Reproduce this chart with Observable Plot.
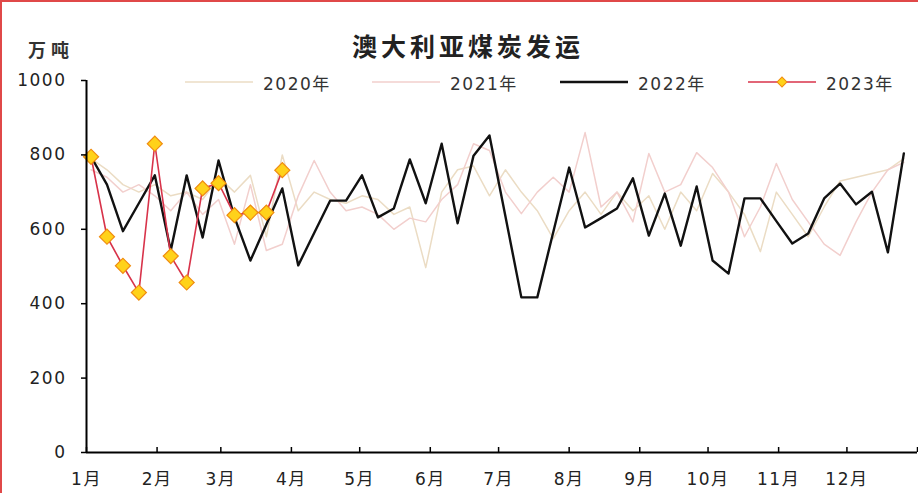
<!DOCTYPE html>
<html>
<head>
<meta charset="utf-8">
<script src="https://cdn.jsdelivr.net/npm/d3@7"></script>
<script src="https://cdn.jsdelivr.net/npm/@observablehq/plot@0.6"></script>
<style>
  html, body { margin: 0; padding: 0; background: #fff; }
  #wrap { position: relative; width: 918px; height: 493px; overflow: hidden; background: #fff;
          font-family: "DejaVu Sans", "Noto Sans CJK SC", sans-serif; color: #222; }
  #chart { position: absolute; left: 0; top: 0; }
  #border { position: absolute; left: 0; top: 0; right: 0; bottom: 0; pointer-events: none;
            border-left: 2px solid #e04848; border-top: 2px solid #e04848; }
  #title { position: absolute; top: 33px; left: 352px; white-space: nowrap;
           font-family: "Noto Sans CJK SC", sans-serif; font-weight: bold; font-size: 25px;
           letter-spacing: 4px; color: #222; line-height: 1; }
  #unit { position: absolute; top: 40px; left: 28px; white-space: nowrap;
          font-family: "Noto Sans CJK SC", sans-serif; font-weight: bold; font-size: 18px;
          letter-spacing: 5px; color: #333; line-height: 1; }
  .leg { position: absolute; top: 72px; height: 20px; display: flex; align-items: center; white-space: nowrap;
         font-size: 17px; letter-spacing: 1.5px; color: #333; }
  .leg svg { margin-right: 10px; }
</style>
</head>
<body>
<div id="wrap">
  <div id="chart"></div>
  <div id="title">澳大利亚煤炭发运</div>
  <div id="unit">万吨</div>
  <div id="legend"></div>
  <div id="border"></div>
</div>
<script>
// ---- data (weekly shipments, 万吨) ----
const seriesNames = ["2020年", "2021年", "2022年", "2023年"];
const seriesColors = ["#ebdcc4", "#f2cfcd", "#111111", "#d8334a"];
const monthLabels = ["1月","2月","3月","4月","5月","6月","7月","8月","9月","10月","11月","12月"];
const yTicks = [0, 200, 400, 600, 800, 1000];

const v2020 = [790, 760, 720, 700, 720, 690, 700, 680, 740, 700, 745, 580, 800, 650, 700, 680,
               670, 690, 680, 640, 660, 497, 700, 760, 770, 690, 760, 700, 650, 575, 650, 700,
               640, 700, 650, 690, 600, 700, 650, 750, 700, 640, 540, 700, 640, 580, 660, 730,
               740, 750, 760, 790];
const v2021 = [760, 740, 700, 720, 690, 650, 700, 640, 680, 560, 720, 543, 560, 690, 785, 700,
               650, 660, 640, 600, 630, 620, 680, 720, 830, 812, 700, 642, 700, 740, 700, 860,
               660, 700, 620, 804, 700, 720, 806, 766, 700, 580, 660, 777, 680, 620, 560, 530,
               620, 700, 760, 780];
const v2022 = [795, 720, 595, 670, 745, 543, 745, 578, 785, 632, 516, 613, 710, 503, 590, 677,
               677, 745, 632, 656, 788, 670, 830, 616, 798, 852, 635, 417, 417, 592, 766, 605,
               630, 656, 737, 583, 696, 556, 715, 516, 481, 683, 683, 622, 562, 589, 683, 723,
               667, 701, 538, 804];
const v2023 = [795, 580, 502, 430, 830, 528, 457, 710, 724, 638, 645, 645, 759];

// ---- build table ----
const weekDate = i => new Date(Date.UTC(2023, 0, 3 + 7 * i));
const toRows = (vals, name) => vals.map((v, i) => ({ year: name, date: weekDate(i), value: v }));
const allValues = [v2020, v2021, v2022, v2023];
const rows = allValues.map((vals, k) => toRows(vals, seriesNames[k]));

const xStart = new Date(Date.UTC(2023, 0, 1));
const xEnd = new Date(Date.UTC(2024, 0, 1));
const monthStarts = d3.range(13).map(m => new Date(Date.UTC(2023, m, 1)));

const plot = Plot.plot({
  width: 918,
  height: 493,
  marginLeft: 86,
  marginRight: 1,
  marginTop: 80,
  marginBottom: 41,
  style: { fontSize: "17px", fontFamily: "\"DejaVu Sans\", \"Noto Sans CJK SC\", sans-serif",
           color: "#222", letterSpacing: "1.5px", background: "transparent", overflow: "visible" },
  x: { type: "utc", domain: [xStart, xEnd] },
  y: { domain: [0, 1000] },
  marks: [
    Plot.lineY(rows[0], { x: "date", y: "value", stroke: seriesColors[0], strokeWidth: 1.5 }),
    Plot.lineY(rows[1], { x: "date", y: "value", stroke: seriesColors[1], strokeWidth: 1.5 }),
    Plot.lineY(rows[2], { x: "date", y: "value", stroke: seriesColors[2], strokeWidth: 2.4 }),
    Plot.lineY(rows[3], { x: "date", y: "value", stroke: seriesColors[3], strokeWidth: 1.6 }),
    Plot.dot(rows[3], { x: "date", y: "value", symbol: "square", rotate: 45, r: 6,
                        fill: "#ffd21a", stroke: "#f08c10", strokeWidth: 1.2 }),
    Plot.ruleY([0], { stroke: "#000", strokeWidth: 2 }),
    Plot.ruleX([xStart], { stroke: "#000", strokeWidth: 2 }),
    Plot.axisY({ ticks: yTicks, tickSize: 5, tickPadding: 15, tickFormat: d => String(d),
                 label: null, stroke: "#000", strokeWidth: 1.5 }),
    Plot.axisX({ ticks: monthStarts, tickSize: -5, tickPadding: 25, label: null,
                 tickFormat: d => d.getUTCFullYear() === 2023 ? monthLabels[d.getUTCMonth()] : "",
                 stroke: "#000", strokeWidth: 1.5 })
  ]
});
document.getElementById("chart").appendChild(plot);

// ---- legend (HTML) ----
const legendLeft = [185, 372, 560, 748];
const legend = document.getElementById("legend");
seriesNames.forEach((name, k) => {
  const item = document.createElement("div");
  item.className = "leg";
  item.style.left = legendLeft[k] + "px";
  const w = 68;
  let sw = k === 2 ? 2.4 : 1.6;
  let marker = "";
  if (k === 3) {
    marker = `<rect x="${w/2 - 3.5}" y="6.5" width="7" height="7" transform="rotate(45 ${w/2} 10)" fill="#ffd21a" stroke="#f08c10" stroke-width="1"/>`;
  }
  item.innerHTML = `<svg width="${w}" height="20"><line x1="0" x2="${w}" y1="10" y2="10" stroke="${seriesColors[k]}" stroke-width="${sw}"/>${marker}</svg><span>${name}</span>`;
  legend.appendChild(item);
});
</script>
</body>
</html>
